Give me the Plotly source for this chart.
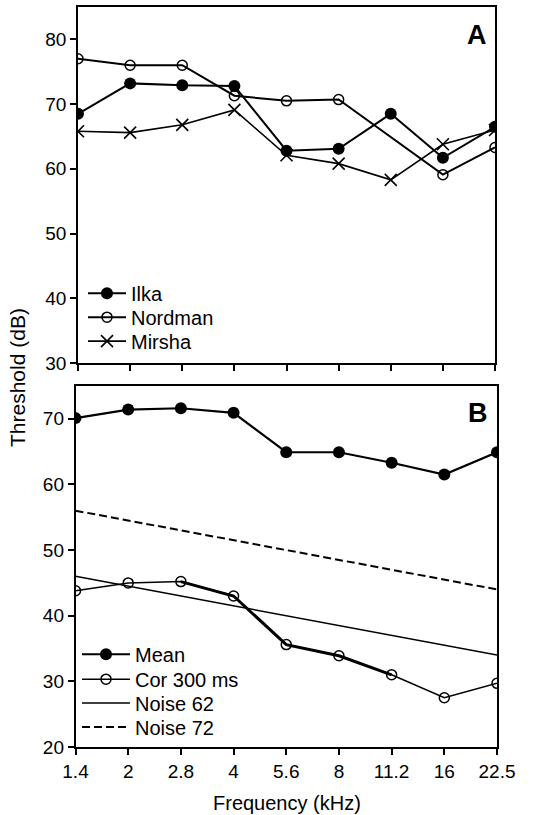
import plotly.graph_objects as go

freqs = ["1.4", "2", "2.8", "4", "5.6", "8", "11.2", "16", "22.5"]

ilka = [68.5, 73.2, 72.9, 72.8, 62.8, 63.1, 68.5, 61.7, 66.5]
nordman = [77.0, 76.0, 76.0, 71.3, 70.5, 70.7, None, 59.1, 63.3]
mirsha = [65.8, 65.6, 66.8, 69.1, 62.1, 60.8, 58.3, 63.8, 66.0]

mean_b = [70.1, 71.4, 71.6, 70.9, 64.9, 64.9, 63.3, 61.5, 64.9]
cor300 = [43.8, 45.0, 45.2, 43.0, 35.6, 33.9, 31.0, 27.5, 29.7]
noise62 = [46.0, 44.5, 43.0, 41.5, 40.0, 38.5, 37.0, 35.5, 34.0]
noise72 = [56.0, 54.5, 53.0, 51.5, 50.0, 48.5, 47.0, 45.5, 44.0]

FONT = "Liberation Sans, Arial, sans-serif"
FS = 19      # tick labels
FL = 20      # legend and axis titles
ML, MB, PW, PH = 75, 68, 422, 742  # margin left/bottom, plot width/height


def px_to_paper(px, py):
    return (px - ML) / PW, (747 - py) / PH


fig = go.Figure()

# Panel A
fig.add_trace(go.Scatter(x=freqs, y=ilka, name="Ilka", mode="lines+markers",
                         line=dict(color="black", width=2),
                         marker=dict(symbol="circle", size=12, color="black"),
                         xaxis="x", yaxis="y", legend="legend"))
fig.add_trace(go.Scatter(x=freqs, y=nordman, name="Nordman", mode="lines+markers",
                         connectgaps=True,
                         line=dict(color="black", width=2),
                         marker=dict(symbol="circle-open", size=10, color="black",
                                     line=dict(width=1.5, color="black")),
                         xaxis="x", yaxis="y", legend="legend2"))
fig.add_trace(go.Scatter(x=freqs, y=mirsha, name="Mirsha", mode="lines+markers",
                         line=dict(color="black", width=1.6),
                         marker=dict(symbol="x-thin", size=12, color="black",
                                     line=dict(width=1.6, color="black")),
                         xaxis="x", yaxis="y", legend="legend3"))

# Panel B
fig.add_trace(go.Scatter(x=freqs, y=noise72, name="Noise 72", mode="lines",
                         line=dict(color="black", width=2, dash="8px,4px"),
                         xaxis="x2", yaxis="y2", legend="legend7"))
fig.add_trace(go.Scatter(x=freqs, y=noise62, name="Noise 62", mode="lines",
                         line=dict(color="black", width=1.5),
                         xaxis="x2", yaxis="y2", legend="legend6"))
fig.add_trace(go.Scatter(x=freqs[2:7], y=cor300[2:7], mode="lines", showlegend=False,
                         line=dict(color="black", width=3),
                         xaxis="x2", yaxis="y2", hoverinfo="skip"))
fig.add_trace(go.Scatter(x=freqs, y=cor300, name="Cor 300 ms", mode="lines+markers",
                         line=dict(color="black", width=1.5),
                         marker=dict(symbol="circle-open", size=10, color="black",
                                     line=dict(width=1.5, color="black")),
                         xaxis="x2", yaxis="y2", legend="legend5"))
fig.add_trace(go.Scatter(x=freqs, y=mean_b, name="Mean", mode="lines+markers",
                         line=dict(color="black", width=2.2),
                         marker=dict(symbol="circle", size=12, color="black"),
                         xaxis="x2", yaxis="y2", legend="legend4"))

axis_common = dict(showline=True, linecolor="black", linewidth=1.5, mirror=True,
                   ticks="outside", ticklen=6, tickwidth=1.5, tickcolor="black",
                   showgrid=False, zeroline=False,
                   tickfont=dict(family=FONT, size=FS, color="black"))


def leg(px_left, py_center, itemwidth):
    x, y = px_to_paper(px_left, py_center)
    return dict(x=x, y=y, xanchor="left", yanchor="middle",
                bgcolor="rgba(0,0,0,0)", itemwidth=itemwidth, borderwidth=0,
                font=dict(family=FONT, size=FL, color="black"))


fig.update_layout(
    width=546, height=815,
    margin=dict(l=ML, r=546 - ML - PW, t=5, b=MB),
    paper_bgcolor="white", plot_bgcolor="white",
    font=dict(family=FONT, size=FS, color="black"),
    xaxis=dict(domain=[0.0071, 0.9953], anchor="y", type="category",
               range=[0, 8], showticklabels=False, **axis_common),
    yaxis=dict(domain=[0.5189, 1.0], anchor="x", range=[30, 85],
               tickvals=[30, 40, 50, 60, 70, 80], **axis_common),
    xaxis2=dict(domain=[0.0012, 1.0], anchor="y2", type="category",
                range=[0, 8], **axis_common),
    yaxis2=dict(domain=[0.0, 0.4879], anchor="x2", range=[20, 75],
                tickvals=[20, 30, 40, 50, 60, 70], **axis_common),
    legend=leg(83, 292, 38),
    legend2=leg(83, 316, 38),
    legend3=leg(83, 340, 38),
    legend4=leg(77, 654, 48),
    legend5=leg(77, 679, 48),
    legend6=leg(77, 703, 48),
    legend7=leg(77, 727, 48),
    showlegend=True,
)

ax, ay = px_to_paper(477, 33)
bx, by = px_to_paper(478, 412)
fx, fy = px_to_paper(287, 803)
tx, ty = px_to_paper(18, 377)
fig.add_annotation(text="<b>A</b>", x=ax, y=ay, xref="paper", yref="paper",
                   showarrow=False, xanchor="center", yanchor="middle",
                   font=dict(family=FONT, size=27, color="black"))
fig.add_annotation(text="<b>B</b>", x=bx, y=by, xref="paper", yref="paper",
                   showarrow=False, xanchor="center", yanchor="middle",
                   font=dict(family=FONT, size=27, color="black"))
fig.add_annotation(text="Frequency (kHz)", x=fx, y=fy, xref="paper", yref="paper",
                   showarrow=False, xanchor="center", yanchor="middle",
                   font=dict(family=FONT, size=FL, color="black"))
fig.add_annotation(text="Threshold (dB)", x=tx, y=ty, xref="paper", yref="paper",
                   showarrow=False, xanchor="center", yanchor="middle", textangle=-90,
                   font=dict(family=FONT, size=21, color="black"))

fig.write_html("out.html", config={"displayModeBar": False},
               post_script="document.body.style.margin='0';document.body.style.overflow='hidden';")
